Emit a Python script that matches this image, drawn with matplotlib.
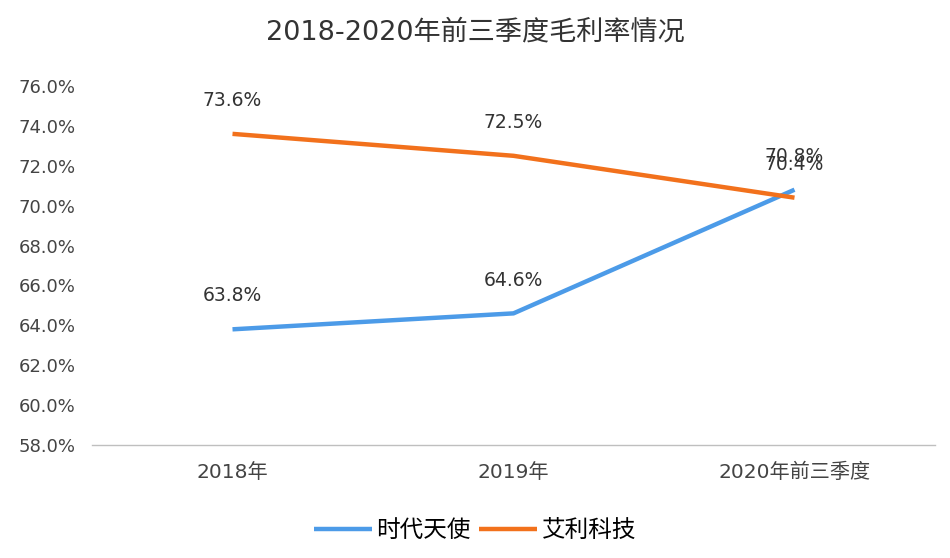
import numpy as np
import matplotlib.pyplot as plt

plt.rcParams['font.family'] = ['DejaVu Sans', 'Noto Sans CJK SC']

# data
categories = ['2018年', '2019年', '2020年前三季度']
series_names = ['时代天使', '艾利科技']
shidai = [63.8, 64.6, 70.8]
aili = [73.6, 72.5, 70.4]
yticks = np.arange(58, 77, 2)

colors = ['#4C9BE8', '#F2711C']

fig = plt.figure(figsize=(9.5, 5.58), dpi=100)
ax = fig.add_axes([92 / 950, 1 - 445 / 558, (935 - 92) / 950, (445 - 86) / 558])

x = np.arange(len(categories))
for vals, name, c in zip([shidai, aili], series_names, colors):
    ax.plot(x, vals, color=c, linewidth=3.2, label=name, solid_capstyle='butt')
    for xi, v in zip(x, vals):
        ax.annotate('%.1f%%' % v, (xi, v), xytext=(0, 24), textcoords='offset points',
                    ha='center', va='center', fontsize=13.5, color='#333333')

ax.set_xlim(-0.5, 2.5)
ax.set_ylim(58, 76)
ax.set_yticks(yticks)
ax.set_yticklabels(['%.1f%%' % t for t in yticks], fontsize=13, color='#444444')
ax.set_xticks(x)
ax.set_xticklabels(categories, fontsize=14.5, color='#444444')
ax.tick_params(axis='both', length=0)
ax.tick_params(axis='y', pad=12)
ax.tick_params(axis='x', pad=13)

for s in ['top', 'right', 'left']:
    ax.spines[s].set_visible(False)
ax.spines['bottom'].set_color('#BFBFBF')
ax.spines['bottom'].set_linewidth(1)

fig.text(0.5, 1 - 32 / 558, '2018-2020年前三季度毛利率情况', ha='center', va='center',
         fontsize=19.5, color='#333333')

ax.legend(loc='center', bbox_to_anchor=(0.5, (558 - 530) / 558), bbox_transform=fig.transFigure,
          ncol=2, frameon=False, fontsize=17, handlelength=2.45, columnspacing=0.35,
          handletextpad=0.2)

plt.savefig('out.png', dpi=100)
